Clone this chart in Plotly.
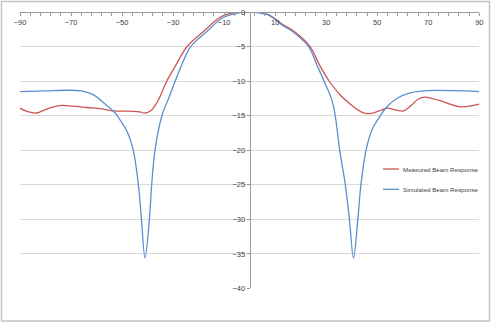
import plotly.graph_objs as go

# Angle (deg) / response (dB)
measured_angle = [-90, -87, -83.5, -80, -76.9, -73.6, -68, -63.8, -58, -53.4, -45.6, -43, -41,
                  -38.4, -36.5, -35.1, -32.5, -28.8, -24.6, -18.1, -12.2, -9.6, -4.5, 0, 3,
                  7.4, 13.3, 17.5, 23.7, 27.3, 31.2, 35.5, 40.7, 43.5, 46, 49.2, 51.5, 53.8,
                  57.1, 60.3, 63.6, 66, 68.8, 71.5, 74.7, 78.5, 82.5, 86, 90]
measured_db = [-13.9, -14.4, -14.6, -14.1, -13.7, -13.5, -13.65, -13.8, -14.0, -14.3, -14.35,
               -14.45, -14.6, -14.15, -13.2, -12.2, -10.0, -7.6, -5.0, -2.8, -0.88, -0.4,
               0, 0, 0, -0.4, -1.85, -2.8, -5.0, -7.6, -10.0, -12.0, -13.7, -14.4, -14.7,
               -14.5, -14.2, -13.9, -14.15, -14.3, -13.4, -12.6, -12.3, -12.5, -12.8,
               -13.3, -13.7, -13.6, -13.3]

simulated_angle = [-90, -80, -72, -66, -61, -57, -52.7, -50.8, -48, -45.6, -43.6, -42.4,
                   -41, -39.3, -38.4, -37.1, -34.4, -31.8, -29.2, -26.6, -23.1,
                   -16.8, -10.9, -7.6, -3.7, 0, 3, 7.4, 12.6, 16.8, 23.1, 26.3, 29.2, 32.2, 33.5,
                   35.3, 37.5, 39.1, 40.7, 42.4, 43.6, 45.6, 48, 50.5, 53.8, 57.7,
                   62.9, 69.5, 80, 90]
simulated_db = [-11.5, -11.4, -11.3, -11.4, -12.0, -13.2, -14.6, -15.6, -17.3, -20, -25, -30,
                -35.6, -30, -25, -20, -15, -12.5, -10, -7.6, -5, -2.8, -0.88, -0.4,
                -0.05, 0, -0.05, -0.4, -1.85, -2.8, -5, -7.6, -10, -12.7, -14.9, -20, -25,
                -30, -35.6, -30, -25, -20, -17, -15.4, -13.7, -12.5, -11.7, -11.36,
                -11.36, -11.5]

series_names = ["Measured Beam Response", "Simulated Beam Response"]
series_colors = ["#CD5550", "#5A90D2"]

W, H = 491, 323
x_dom = [20 / W, 479.3 / W]
y_dom = [1 - 288.4 / H, 1 - 12.2 / H]
tick_font = dict(family="Liberation Sans, Arial", size=7.5, color="#404040")

fig = go.Figure()
for name, xs, ys, color in zip(series_names, [measured_angle, simulated_angle],
                               [measured_db, simulated_db], series_colors):
    fig.add_trace(go.Scatter(
        name=name, x=xs, y=ys, mode="lines",
        line=dict(color=color, width=1.3, shape="spline", smoothing=1.0),
        showlegend=False
    ))

fig.update_layout(
    width=W, height=H,
    margin=dict(l=0, r=0, t=0, b=0, pad=0, autoexpand=False),
    paper_bgcolor="white", plot_bgcolor="white",
    font=tick_font,
    showlegend=False,
)
fig.update_xaxes(
    range=[-90, 90], domain=x_dom, anchor="free", position=y_dom[1], side="bottom",
    automargin=False,
    tick0=-90, dtick=20, ticks="outside", ticklen=3, tickcolor="#9a9a9a",
    minor=dict(tick0=-90, dtick=4, ticks="outside", ticklen=3, tickcolor="#9a9a9a"),
    showline=True, linecolor="#9a9a9a", linewidth=1,
    showgrid=False, zeroline=False, tickfont=tick_font
)
x0_pos = x_dom[0] + (x_dom[1] - x_dom[0]) * 0.5
fig.update_yaxes(
    range=[-40, 0], domain=y_dom, anchor="free", position=x0_pos, side="left",
    automargin=False,
    tick0=0, dtick=5, ticks="outside", ticklen=3, tickcolor="#9a9a9a",
    showline=True, linecolor="#9a9a9a", linewidth=1,
    showgrid=True, gridcolor="#d9d9d9", gridwidth=1, zeroline=False, tickfont=tick_font
)

# legend box (white, over the gridlines) and entries
fig.add_shape(type="rect", xref="paper", yref="paper", layer="above",
              x0=369 / W, x1=480 / W, y0=1 - 200 / H, y1=1 - 158 / H,
              fillcolor="white", line=dict(width=0))
for i, (name, color) in enumerate(zip(series_names, series_colors)):
    y_px = 169 + i * 20.3
    fig.add_shape(type="line", xref="paper", yref="paper", layer="above",
                  x0=383 / W, x1=399 / W, y0=1 - y_px / H, y1=1 - y_px / H,
                  line=dict(color=color, width=1.3))
    fig.add_annotation(text=name, xref="paper", yref="paper", x=401 / W, y=1 - y_px / H,
                       xanchor="left", yanchor="middle", showarrow=False,
                       font=dict(family="Liberation Sans, Arial", size=6.2, color="#404040"))

# chart border
fig.add_shape(type="rect", xref="paper", yref="paper", layer="above",
              x0=1.5 / W, x1=489.5 / W, y0=1 - 321 / H, y1=1 - 1.5 / H,
              line=dict(color="#c4c4c4", width=1.5))

# no page margins or scrollbars around the fixed-size figure
page_style = """
var st = document.createElement('style');
st.textContent = 'html,body{margin:0;padding:0;overflow:hidden;}';
document.head.appendChild(st);
"""

fig.write_html("out.html", config={"displayModeBar": False}, post_script=page_style)
